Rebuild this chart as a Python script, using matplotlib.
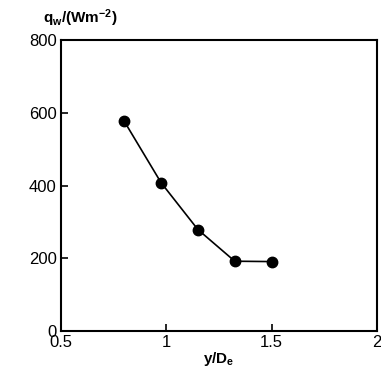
import numpy as np
import matplotlib
matplotlib.use('Agg')
import matplotlib.pyplot as plt

# wall heat flux along the wall
y_De = [0.8, 0.975, 1.15, 1.325, 1.5]
q_w = [577, 408, 279, 192, 191]

plt.rcParams['font.family'] = ['Liberation Sans', 'DejaVu Sans']
plt.rcParams['mathtext.fontset'] = 'custom'
plt.rcParams['mathtext.rm'] = 'Liberation Sans'
plt.rcParams['mathtext.bf'] = 'Liberation Sans:bold'

fig = plt.figure(figsize=(3.81, 3.72), dpi=100)
ax = fig.add_axes([0.160, 0.110, 0.8295, 0.7825])

ax.plot(y_De, q_w, '-o', color='black', lw=1.2, markersize=7.5)

ax.set_xlim(0.5, 2)
ax.set_ylim(0, 800)
ax.set_xticks([0.5, 1, 1.5, 2])
ax.set_xticklabels(['0.5', '1', '1.5', '2'])
ax.set_yticks([0, 200, 400, 600, 800])
ax.tick_params(direction='in', length=5, width=1.2, labelsize=12, pad=3,
               top=False, right=False)
for s in ax.spines.values():
    s.set_linewidth(1.5)

ax.set_xlabel(r'$\mathbf{y/D_e}$', fontsize=11, labelpad=0)
fig.text(80 / 381, 1 - 18 / 372, r'$\mathbf{q_w/(Wm^{-2})}$', fontsize=11,
         ha='center', va='center')

fig.savefig('out.png', dpi=100)
